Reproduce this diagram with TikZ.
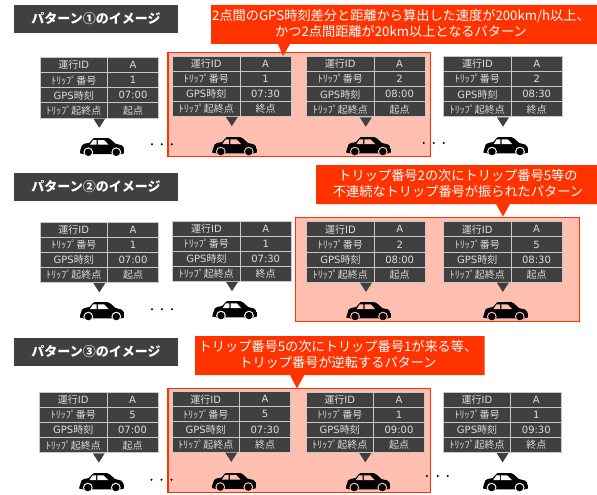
\documentclass[tikz,border=0pt]{standalone}
\usepackage{fontspec}
\setmainfont{Noto Sans CJK JP}
\newfontfamily\latfont{DejaVu Sans}
\definecolor{dk}{HTML}{404040}
\definecolor{rd}{HTML}{FF3300}
\definecolor{pk}{HTML}{FFBFB0}
\definecolor{gl}{HTML}{C8C8C8}
\definecolor{tx}{HTML}{DEDEDE}
\tikzset{
  cell/.style={draw=gl,line width=0.9pt,fill=dk,text=tx,inner sep=0pt,outer sep=0pt,anchor=north west,
    minimum height=15.1pt,font=\fontsize{10}{11}\selectfont},
  lcell/.style={cell,minimum width=67.5pt},
  rcell/.style={cell,minimum width=51pt},
  titlebox/.style={fill=dk,text=white,inner sep=0pt,outer sep=0pt,anchor=north west,minimum width=164pt,minimum height=28pt,
    font=\fontsize{13}{15}\bfseries\selectfont},
  calltext/.style={text=white,inner sep=0pt,align=center,font=\fontsize{13.2}{16.5}\selectfont},
  panel/.style={draw=rd,line width=1.1pt,fill=pk},
  callfill/.style={fill=rd},
  tip/.style={fill=dk},
  dot/.style={fill=black,circle,inner sep=0pt,minimum size=2.2pt},
}
\newcommand\carshape[3]{% x, y, background colour
  \begin{scope}[shift={(#1,#2)}]
    \begin{scope}
      \clip (1,12) -- (2.5,7.5) -- (5,6) -- (10,5) -- (13.5,1) -- (15,0) -- (28,0) -- (31,1.5) -- (36,6)
        -- (42,7.5) -- (44,9.5) -- (45,12.5) -- (45,15.5) -- (42,16.3) -- (4,16.3) -- (0,15.5) -- cycle;
      \fill[black] (0,0) rectangle (45,17);
      \foreach \wx in {8.8,36.8}{\fill[#3] (\wx,14.6) circle (4.9);}
    \end{scope}
    \fill[#3] (10.5,7) -- (13.5,2.4) -- (17.2,2.4) -- (17.2,7) -- cycle;
    \fill[#3] (18.3,2.4) -- (24.5,2.4) -- (29,7) -- (18.3,7) -- cycle;
    \foreach \wx in {8.8,36.8}{\fill[black] (\wx,14.6) circle (3.7);}
  \end{scope}}
\newcommand\triptable[8]{% id, x, y, trip, time, role, car y, car background
  \pgfmathsetmacro\xa{#2}\pgfmathsetmacro\xb{#2+67.5}
  \pgfmathsetmacro\ya{#3}\pgfmathsetmacro\yb{#3+15.1}\pgfmathsetmacro\yc{#3+30.2}\pgfmathsetmacro\yd{#3+45.3}
  \node[lcell] (#1-a) at (\xa,\ya) {運行{\latfont ID}};
  \node[rcell] (#1-b) at (\xb,\ya) {\latfont A};
  \node[lcell] (#1-c) at (\xa,\yb) {ﾄﾘｯﾌﾟ番号};
  \node[rcell] (#1-d) at (\xb,\yb) {\latfont #4};
  \node[lcell] (#1-e) at (\xa,\yc) {{\latfont GPS}時刻};
  \node[rcell] (#1-f) at (\xb,\yc) {\latfont #5};
  \node[lcell] (#1-g) at (\xa,\yd) {ﾄﾘｯﾌﾟ起終点};
  \node[rcell] (#1-h) at (\xb,\yd) {#6};
  \pgfmathsetmacro\tx{#2+59.3}\pgfmathsetmacro\ty{#3+60.9}
  \fill[tip] (\tx-6,\ty) -- (\tx+6,\ty) -- (\tx,\ty+9.3) -- cycle;
  \pgfmathsetmacro\cx{#2+39.5}
  \carshape{\cx}{#7}{#8}
}
\begin{document}
\begin{tikzpicture}[x=1pt,y=-1pt]
\useasboundingbox (0,0) rectangle (597,495);
\fill[white] (0,0) rectangle (597,495);

% pattern 1
\node[titlebox] (t1) at (14,5) {\makebox[164pt]{パターン①のイメージ}};
\draw[panel] (168,52.5) rectangle (430.7,156.5);
\fill[callfill] (211,5) -- (597,5) -- (597,44) -- (290,44) -- (283,56) -- (278,44) -- (211,44) -- cycle;
\node[calltext] (c1) at (401,23.5) {2点間のGPS時刻差分と距離から算出した速度が200km/h以上、\\かつ2点間距離が20km以上となるパターン};
\triptable{a1}{40}{57.6}{1}{07:00}{起点}{137.7}{white}
\triptable{a2}{172.5}{56}{1}{07:30}{終点}{137}{pk}
\triptable{a3}{306.5}{56.5}{2}{08:00}{起点}{137}{pk}
\triptable{a4}{443.7}{56.5}{2}{08:30}{終点}{137}{white}
\node[dot] (d11) at (152,144.3) {};\node[dot] (d12) at (161.7,144.3) {};\node[dot] (d13) at (171.7,144.3) {};
\node[dot] (d14) at (423.7,143) {};\node[dot] (d15) at (433.7,143) {};\node[dot] (d16) at (443.7,143) {};

% pattern 2
\node[titlebox] (t2) at (14,173) {\makebox[164pt]{パターン②のイメージ}};
\draw[panel] (295.3,217.3) rectangle (579.7,321.7);
\fill[callfill] (316,165) -- (597,165) -- (597,204) -- (510,204) -- (503,216.5) -- (496,204) -- (316,204) -- cycle;
\node[calltext] (c2) at (458,183.5) {トリップ番号2の次にトリップ番号5等の\\不連続なトリップ番号が振られたパターン};
\triptable{b1}{40}{222.2}{1}{07:00}{起点}{302}{white}
\triptable{b2}{172.7}{221}{1}{07:30}{終点}{301}{white}
\triptable{b3}{306.7}{221.8}{2}{08:00}{起点}{302}{pk}
\triptable{b4}{443.5}{221.8}{5}{08:30}{起点}{302}{pk}
\node[dot] (d21) at (152,309.3) {};\node[dot] (d22) at (162,309.3) {};\node[dot] (d23) at (172,309.3) {};

% pattern 3
\node[titlebox] (t3) at (14,338) {\makebox[164pt]{パターン③のイメージ}};
\draw[panel] (168,388.3) rectangle (430.7,492.3);
\fill[callfill] (195,336) -- (484.7,336) -- (484.7,375) -- (304.3,375) -- (297,388.5) -- (290,375) -- (195,375) -- cycle;
\node[calltext] (c3) at (338,354.5) {トリップ番号5の次にトリップ番号1が来る等、\\トリップ番号が逆転するパターン};
\triptable{e1}{39.5}{392.4}{5}{07:00}{起点}{473}{white}
\triptable{e2}{172}{391.7}{5}{07:30}{終点}{472.5}{pk}
\triptable{e3}{306}{392.2}{1}{09:00}{起点}{473}{pk}
\triptable{e4}{443.3}{392.2}{1}{09:30}{終点}{473}{white}
\node[dot] (d31) at (151.5,479.7) {};\node[dot] (d32) at (161.5,479.7) {};\node[dot] (d33) at (171.5,479.7) {};
\node[dot] (d34) at (427,476) {};\node[dot] (d35) at (437.7,476) {};\node[dot] (d36) at (447.7,476) {};
\end{tikzpicture}
\end{document}
